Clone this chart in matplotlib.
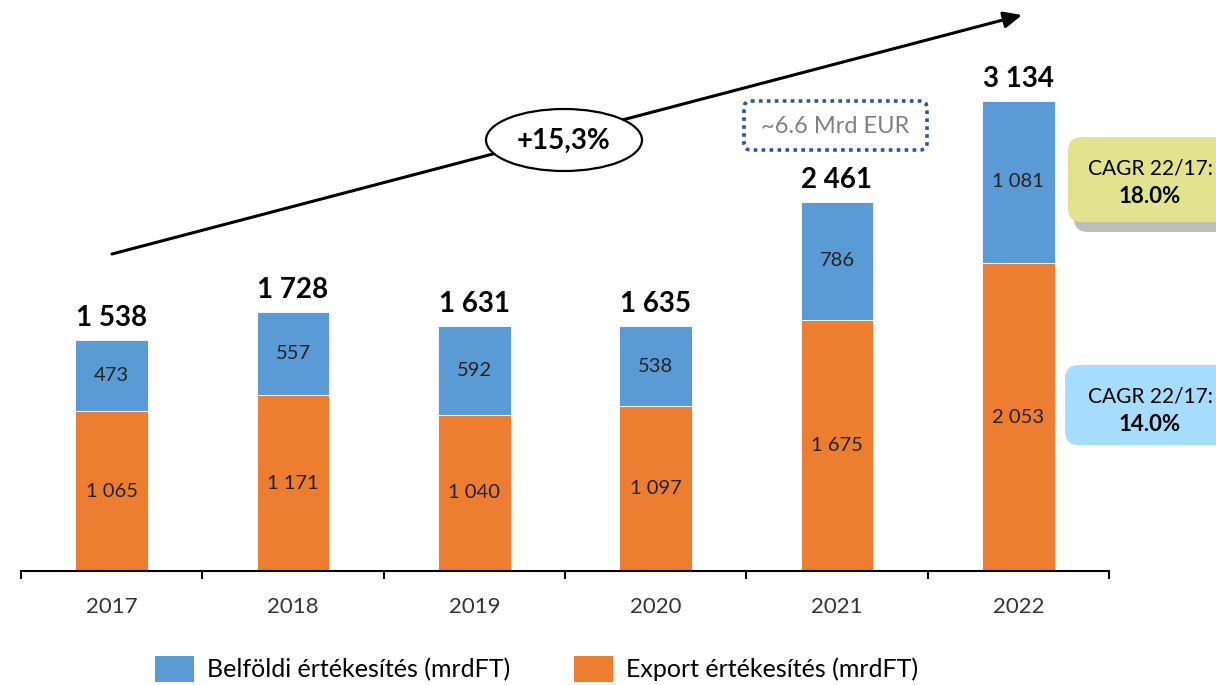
import matplotlib
matplotlib.use("Agg")
import matplotlib.pyplot as plt
from matplotlib.patches import Ellipse, FancyBboxPatch, Patch
import numpy as np

plt.rcParams['font.family'] = ['Lato', 'DejaVu Sans']

years = ["2017", "2018", "2019", "2020", "2021", "2022"]
export = [1065, 1171, 1040, 1097, 1675, 2053]
domestic = [473, 557, 592, 538, 786, 1081]
totals = [1538, 1728, 1631, 1635, 2461, 3134]
legend_labels = ["Belföldi értékesítés (mrdFT)", "Export értékesítés (mrdFT)"]

BLUE = "#5B9BD5"
ORANGE = "#ED7D31"

def fmt(v):
    return f"{v:,}".replace(",", " ")

W, H = 1216, 685
fig = plt.figure(figsize=(W / 100, H / 100), dpi=100)
ax = fig.add_axes([21 / W, 114 / H, 1088 / W, 571 / H])
x = np.arange(len(years))
bw = 0.40
ax.bar(x, export, bw, color=ORANGE, edgecolor="white", linewidth=0.6)
ax.bar(x, domestic, bw, bottom=export, color=BLUE, edgecolor="white", linewidth=0.6)
ax.set_xlim(-0.5, len(years) - 0.5)
ax.set_ylim(0, 571 / 0.15)

for i in range(len(years)):
    ax.text(x[i], export[i] / 2, fmt(export[i]), ha="center", va="center",
            fontsize=14.5, color="#222222")
    ax.text(x[i], export[i] + domestic[i] / 2, fmt(domestic[i]), ha="center",
            va="center", fontsize=14.5, color="#222222")
    ax.annotate(fmt(totals[i]), (x[i], totals[i]), xytext=(0, 16),
                textcoords="offset points", ha="center", va="center",
                fontsize=20, fontweight="bold", color="black")

for s in ["top", "right", "left"]:
    ax.spines[s].set_visible(False)
ax.spines["bottom"].set_linewidth(1.5)
ax.set_yticks([])
ax.set_xticks(x)
ax.set_xticklabels(years, fontsize=16, color="#333333")
ax.tick_params(axis="x", which="major", length=0, pad=19)
ax.set_xticks(np.arange(-0.5, len(years), 1.0), minor=True)
ax.tick_params(axis="x", which="minor", length=6, width=1.5, direction="out")

# Decoration overlay in pixel coordinates
ov = fig.add_axes([0, 0, 1, 1], zorder=5)
ov.set_xlim(0, W)
ov.set_ylim(H, 0)
ov.axis("off")
ov.patch.set_alpha(0)

ov.annotate("", xy=(1022, 15), xytext=(112, 254),
            arrowprops=dict(arrowstyle="-|>,head_length=1.1,head_width=0.5",
                            color="black", lw=2.2, shrinkA=0, shrinkB=0))
ov.add_patch(Ellipse((564, 140), 156, 62, facecolor="white",
                     edgecolor="black", lw=1.6, zorder=3))
ov.text(564, 141, "+15,3%", ha="center", va="center", fontsize=20,
        fontweight="bold", zorder=4)

ov.add_patch(FancyBboxPatch((744, 101), 183, 49,
                            boxstyle="round,pad=0,rounding_size=7",
                            facecolor="white", edgecolor="#2F5597", lw=2.6,
                            linestyle=(0, (1, 1.2)), zorder=3))
ov.text(835, 126, "~6.6 Mrd EUR", ha="center", va="center", fontsize=17,
        color="#808080", zorder=4)

# Yellow CAGR box with shadow
ov.add_patch(FancyBboxPatch((1074, 146), 170, 86,
                            boxstyle="round,pad=0,rounding_size=14",
                            facecolor="#BEBEBE", edgecolor="none", zorder=2))
ov.add_patch(FancyBboxPatch((1068, 137), 170, 85,
                            boxstyle="round,pad=0,rounding_size=14",
                            facecolor="#E3E28F", edgecolor="none", zorder=3))
ov.text(1150, 168, "CAGR 22/17:", ha="center", va="center", fontsize=15, zorder=4)
ov.text(1150, 196, "18.0%", ha="center", va="center", fontsize=16,
        fontweight="bold", zorder=4)

ov.add_patch(FancyBboxPatch((1065, 365), 175, 80,
                            boxstyle="round,pad=0,rounding_size=14",
                            facecolor="#A6DCFE", edgecolor="none", zorder=3))
ov.text(1150, 396, "CAGR 22/17:", ha="center", va="center", fontsize=15, zorder=4)
ov.text(1150, 424, "14.0%", ha="center", va="center", fontsize=16,
        fontweight="bold", zorder=4)

handles = [Patch(facecolor=BLUE), Patch(facecolor=ORANGE)]
fig.legend(handles, legend_labels, loc="center", bbox_to_anchor=(537 / W, 1 - 669 / H),
           ncol=2, frameon=False, fontsize=18, handlelength=1.55, handleheight=1.2,
           handletextpad=0.53, columnspacing=2.55)

fig.savefig("out.png", dpi=100)
